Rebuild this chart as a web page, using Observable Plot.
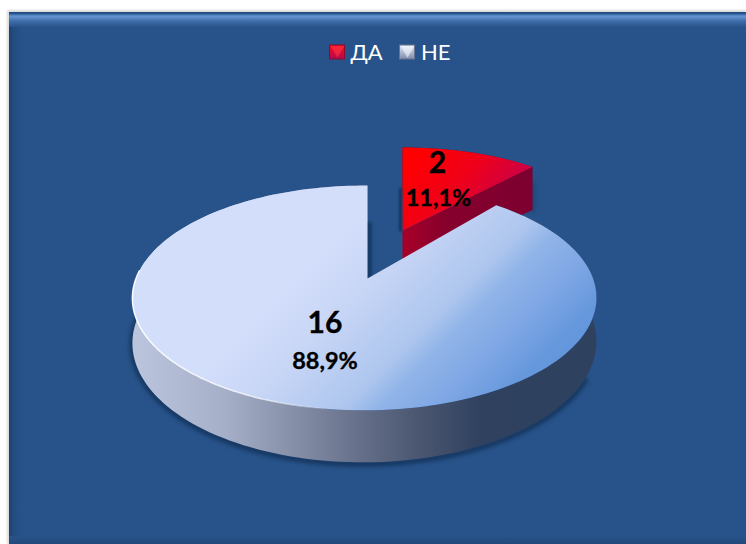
<!DOCTYPE html>
<html>
<head>
<meta charset="utf-8">
<script src="https://cdn.jsdelivr.net/npm/d3@7"></script>
<script src="https://cdn.jsdelivr.net/npm/@observablehq/plot@0.6"></script>
<style>html,body{margin:0;padding:0;background:#fff;overflow:hidden}svg{display:block}</style>
</head>
<body>
<div id="chart"></div>
<script>
const categories = ["ДА", "НЕ"];
const counts = [2, 16];

const W = 746, H = 544;
const total = d3.sum(counts);
const arcs = d3.pie().sort(null)(counts);

// Perspective poses of the two exploded slices
const poseDA = {x0: 402, y0: 230, A: 202, B: 83, k: 0, m: 0, h: 43, t: 0.55};
const poseNE = {x0: 367, y0: 278, A: 228.5, B: 109, k: 0.173, m: 0.013, h: 43, t: 0.52};

function project(p, a, t = 1, z = 0) {
  const u = Math.sin(a) * t, v = Math.cos(a) * t;
  const d = 1 + p.k * v + p.m * u;
  return {x: p.x0 + p.A * u / d, y: p.y0 - p.B * v / d + z * p.h / d};
}
function arcPts(p, a0, a1, z = 0, t = 1) {
  return d3.range(0, 181).map(i => project(p, a0 + (a1 - a0) * i / 180, t, z));
}
const topFace = (p, s) => [project(p, 0, 0), ...arcPts(p, s.startAngle, s.endAngle)];
const sideFace = (p, s) => [...arcPts(p, s.startAngle, s.endAngle), ...arcPts(p, s.startAngle, s.endAngle, 1).reverse()];
const cutFace = (p, s) => {
  const a = s.endAngle;
  return [project(p, 0, 0), project(p, a), project(p, a, 1, 1), project(p, 0, 0, 1)];
};
const poly = (pts, fill, extra = {}) => Plot.line(pts, {x: "x", y: "y", fill, stroke: "none", ...extra});

const [sDA, sNE] = arcs;
const mid = s => (s.startAngle + s.endAngle) / 2;
const pct = v => (v / total * 100).toFixed(1).replace(".", ",") + "%";
const labelFont = {fontFamily: "Lato, 'Open Sans', sans-serif", fontWeight: "bold", fill: "black", stroke: "black", strokeWidth: 0.35};
const labelAt = (p, s) => [project(p, mid(s), p.t)];

// Legend entries
const legendBoxes = [
  {x1: 329.5, x2: 344.5, y1: 45, y2: 59, cx: 337, cy: 49.5, f: "url(#legDA)", s: "#8c0a2c", tri: "#ff3a4a"},
  {x1: 399.5, x2: 414.5, y1: 45, y2: 59, cx: 407, cy: 49.5, f: "url(#legNE)", s: "#6a7490", tri: "#ffffff"}
];
const legendText = [
  {x: 350, y: 52, label: categories[0]},
  {x: 420.5, y: 52, label: categories[1]}
];

const chart = Plot.plot({
  width: W, height: H, margin: 0,
  x: {domain: [0, W], range: [0, W], axis: null},
  y: {domain: [0, H], range: [0, H], axis: null},
  style: {background: "#fff", overflow: "hidden"},
  marks: [
    // panel
    Plot.rect([{}], {x1: () => 7, x2: () => W, y1: () => 10, y2: () => H, fill: "#d9d9d9", imageFilter: "blur(1px)"}),
    Plot.rect([{}], {x1: () => 9, x2: () => W, y1: () => 12, y2: () => H, fill: "#27538a"}),
    Plot.rect([{}], {x1: () => 9, x2: () => 22, y1: () => 12, y2: () => H, fill: "url(#bevelL)"}),
    Plot.rect([{}], {x1: () => 9, x2: () => W, y1: () => 12, y2: () => 27, fill: "url(#bevelT)"}),
    Plot.rect([{}], {x1: () => 9, x2: () => W, y1: () => 536, y2: () => H, fill: "url(#bevelB)"}),

    // slice ДА
    poly(arcPts(poseDA, sDA.startAngle, sDA.endAngle, 0.3).concat(arcPts(poseDA, sDA.startAngle, sDA.endAngle, 1).reverse()), "#123050", {dx: 3, dy: 3, fillOpacity: 0.35, imageFilter: "blur(2px)"}),
    poly(sideFace(poseDA, sDA), "#6e0028"),
    poly(cutFace(poseDA, sDA), "url(#daCut)"),
    poly(topFace(poseDA, sDA), "url(#daTop)"),

    // slice НЕ
    Plot.line(arcPts(poseNE, sNE.startAngle + 1.35, sNE.endAngle - 0.6, 1), {x: "x", y: "y", stroke: "#0f2a4e", strokeWidth: 5, strokeOpacity: 0.8, dy: 1.5, imageFilter: "blur(2px)"}),
    Plot.line([project(poseNE, 0, 0), project(poseNE, 0, 0.55)], {x: "x", y: "y", stroke: "#14345c", strokeWidth: 4, dx: 2, imageFilter: "blur(1.5px)"}),
    Plot.line([project(poseDA, 0, 0), project(poseDA, 0, 0.5)], {x: "x", y: "y", stroke: "#14345c", strokeWidth: 3, dx: -2, imageFilter: "blur(1px)"}),
    poly(sideFace(poseNE, sNE), "url(#neSide)"),
    poly(topFace(poseNE, sNE), "url(#neTop)"),
    Plot.line(arcPts(poseNE, sNE.startAngle + 2.6, sNE.endAngle - 1.5), {x: "x", y: "y", stroke: "url(#neRim)", strokeWidth: 1.5, imageFilter: "blur(0.6px)"}),

    // data labels
    Plot.text(labelAt(poseDA, sDA), {x: "x", y: "y", text: () => String(counts[0]), fontSize: 30, dx: -3, dy: -24, ...labelFont}),
    Plot.text(labelAt(poseDA, sDA), {x: "x", y: "y", text: () => pct(counts[0]), fontSize: 23.5, dy: 11, dx: -2, ...labelFont}),
    Plot.text(labelAt(poseNE, sNE), {x: "x", y: "y", text: () => String(counts[1]), fontSize: 30, dx: 2, dy: -13, ...labelFont}),
    Plot.text(labelAt(poseNE, sNE), {x: "x", y: "y", text: () => pct(counts[1]), fontSize: 23.5, dx: 2, dy: 25, ...labelFont}),

    // legend
    Plot.rect(legendBoxes, {x1: "x1", x2: "x2", y1: "y1", y2: "y2", fill: "f", stroke: "s", strokeWidth: 1}),
    Plot.dot(legendBoxes, {x: "cx", y: "cy", r: 5, symbol: "triangle", rotate: 180, fill: "tri", stroke: "none", fillOpacity: 0.55}),
    Plot.text(legendText, {x: "x", y: "y", text: "label", textAnchor: "start", fontSize: 22, fill: "white", fontFamily: "Lato, 'Open Sans', sans-serif"})
  ]
});

chart.insertAdjacentHTML("afterbegin", `
<defs>
  <linearGradient id="bevelT" x1="0" x2="0" y1="0" y2="1">
    <stop offset="0" stop-color="#1f4474"/><stop offset="0.14" stop-color="#2f5f9c"/>
    <stop offset="0.27" stop-color="#6795d3"/><stop offset="0.6" stop-color="#3f6eaa"/>
    <stop offset="1" stop-color="#27538a"/>
  </linearGradient>
  <linearGradient id="bevelL" x1="0" x2="1" y1="0" y2="0">
    <stop offset="0" stop-color="#1d4272"/><stop offset="0.35" stop-color="#234c80"/><stop offset="1" stop-color="#27538a"/>
  </linearGradient>
  <linearGradient id="bevelB" x1="0" x2="0" y1="0" y2="1">
    <stop offset="0" stop-color="#27538a"/><stop offset="1" stop-color="#224878"/>
  </linearGradient>
  <linearGradient id="daTop" gradientUnits="userSpaceOnUse" x1="415" y1="150" x2="505" y2="225">
    <stop offset="0" stop-color="#ff0000"/><stop offset="0.45" stop-color="#f00018"/><stop offset="1" stop-color="#c00058"/>
  </linearGradient>
  <linearGradient id="daCut" gradientUnits="userSpaceOnUse" x1="402" y1="0" x2="532" y2="0">
    <stop offset="0" stop-color="#a80028"/><stop offset="0.3" stop-color="#88002c"/><stop offset="1" stop-color="#7c0030"/>
  </linearGradient>
  <linearGradient id="neTop" gradientUnits="userSpaceOnUse" x1="286" y1="286" x2="471" y2="471">
    <stop offset="0" stop-color="#d3defb"/><stop offset="0.21" stop-color="#c8d6f6"/>
    <stop offset="0.48" stop-color="#aec6ee"/><stop offset="0.58" stop-color="#90b4e8"/>
    <stop offset="0.71" stop-color="#82a9e6"/><stop offset="0.88" stop-color="#6698dd"/>
    <stop offset="1" stop-color="#5f95dc"/>
  </linearGradient>
  <linearGradient id="neSide" gradientUnits="userSpaceOnUse" x1="132" y1="0" x2="596" y2="0">
    <stop offset="0" stop-color="#bcc5de"/><stop offset="0.2" stop-color="#a6afc8"/>
    <stop offset="0.38" stop-color="#7f88a1"/><stop offset="0.5" stop-color="#636d87"/>
    <stop offset="0.62" stop-color="#4a5670"/><stop offset="0.75" stop-color="#2f415f"/>
    <stop offset="1" stop-color="#2e415e"/>
  </linearGradient>
  <linearGradient id="neRim" gradientUnits="userSpaceOnUse" x1="132" y1="0" x2="340" y2="0">
    <stop offset="0" stop-color="#ffffff" stop-opacity="0.95"/><stop offset="0.6" stop-color="#ffffff" stop-opacity="0.75"/>
    <stop offset="1" stop-color="#ffffff" stop-opacity="0"/>
  </linearGradient>
  <linearGradient id="legDA" x1="0" x2="0" y1="0" y2="1">
    <stop offset="0" stop-color="#ff0a1a"/><stop offset="1" stop-color="#b00a50"/>
  </linearGradient>
  <linearGradient id="legNE" x1="0" x2="0" y1="0" y2="1">
    <stop offset="0" stop-color="#dfe7fb"/><stop offset="1" stop-color="#7f8cab"/>
  </linearGradient>
</defs>`);
document.getElementById("chart").appendChild(chart);
</script>
</body>
</html>
